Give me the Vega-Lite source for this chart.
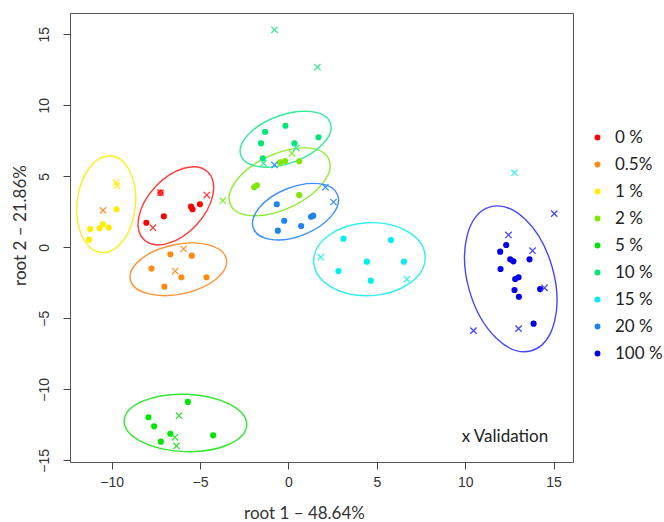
{
  "$schema": "https://vega.github.io/schema/vega-lite/v6.json",
  "width": 503,
  "height": 449,
  "autosize": {"type": "none"},
  "padding": {"left": 70, "top": 13, "right": 91, "bottom": 60},
  "config": {
    "view": {"stroke": "#555555", "strokeWidth": 1},
    "font": "Lato"
  },
  "datasets": {
    "dots": [
      {"g": "0 %", "x": -7.24, "y": 3.85}, {"g": "0 %", "x": -7.05, "y": 2.18}, {"g": "0 %", "x": -8.04, "y": 1.73},
      {"g": "0 %", "x": -5.51, "y": 2.86}, {"g": "0 %", "x": -5.43, "y": 2.68}, {"g": "0 %", "x": -5.01, "y": 3.03},
      {"g": "0.5%", "x": -6.68, "y": -0.49}, {"g": "0.5%", "x": -5.47, "y": -0.59}, {"g": "0.5%", "x": -7.75, "y": -1.5},
      {"g": "0.5%", "x": -6.06, "y": -2.11}, {"g": "0.5%", "x": -4.64, "y": -2.11}, {"g": "0.5%", "x": -7.02, "y": -2.77},
      {"g": "1 %", "x": -9.73, "y": 2.68}, {"g": "1 %", "x": -11.22, "y": 1.29}, {"g": "1 %", "x": -10.69, "y": 1.34},
      {"g": "1 %", "x": -10.5, "y": 1.62}, {"g": "1 %", "x": -10.17, "y": 1.38}, {"g": "1 %", "x": -11.28, "y": 0.54},
      {"g": "2 %", "x": -0.47, "y": 5.98}, {"g": "2 %", "x": -0.19, "y": 6.08}, {"g": "2 %", "x": 0.61, "y": 6.06},
      {"g": "2 %", "x": -1.94, "y": 4.23}, {"g": "2 %", "x": -1.79, "y": 4.37}, {"g": "2 %", "x": 0.61, "y": 3.68},
      {"g": "5 %", "x": -5.69, "y": -10.89}, {"g": "5 %", "x": -7.92, "y": -11.97}, {"g": "5 %", "x": -7.6, "y": -12.61},
      {"g": "5 %", "x": -6.68, "y": -13.13}, {"g": "5 %", "x": -7.22, "y": -13.69}, {"g": "5 %", "x": -4.26, "y": -13.24},
      {"g": "10 %", "x": -1.32, "y": 8.14}, {"g": "10 %", "x": -0.17, "y": 8.56}, {"g": "10 %", "x": -1.55, "y": 7.32},
      {"g": "10 %", "x": 0.34, "y": 7.32}, {"g": "10 %", "x": 1.7, "y": 7.75}, {"g": "10 %", "x": -1.45, "y": 6.27},
      {"g": "15 %", "x": 3.11, "y": 0.61}, {"g": "15 %", "x": 5.8, "y": 0.51}, {"g": "15 %", "x": 4.44, "y": -1.01},
      {"g": "15 %", "x": 6.53, "y": -1.01}, {"g": "15 %", "x": 2.83, "y": -1.67}, {"g": "15 %", "x": 4.66, "y": -2.35},
      {"g": "20 %", "x": -0.66, "y": 3.03}, {"g": "20 %", "x": -0.24, "y": 1.87}, {"g": "20 %", "x": -0.6, "y": 1.17},
      {"g": "20 %", "x": 0.72, "y": 1.5}, {"g": "20 %", "x": 1.28, "y": 2.15}, {"g": "20 %", "x": 1.4, "y": 2.23},
      {"g": "100 %", "x": 12.32, "y": 0.16}, {"g": "100 %", "x": 11.98, "y": -0.31}, {"g": "100 %", "x": 12.55, "y": -0.85},
      {"g": "100 %", "x": 12.73, "y": -0.99}, {"g": "100 %", "x": 13.64, "y": -0.85}, {"g": "100 %", "x": 12.0, "y": -1.53},
      {"g": "100 %", "x": 12.83, "y": -2.23}, {"g": "100 %", "x": 13.02, "y": -2.11}, {"g": "100 %", "x": 12.79, "y": -3.01},
      {"g": "100 %", "x": 13.04, "y": -3.48}, {"g": "100 %", "x": 14.24, "y": -2.94}, {"g": "100 %", "x": 13.87, "y": -5.38}
    ],
    "validation": [
      {"grp": "0 %", "x": -7.24, "y": 3.85}, {"grp": "0 %", "x": -7.67, "y": 1.38}, {"grp": "0 %", "x": -4.62, "y": 3.68},
      {"grp": "0.5%", "x": -5.94, "y": -0.12}, {"grp": "0.5%", "x": -6.41, "y": -1.67}, {"grp": "0.5%", "x": -10.49, "y": 2.6},
      {"grp": "1 %", "x": -9.74, "y": 4.55}, {"grp": "1 %", "x": -9.7, "y": 4.35},
      {"grp": "2 %", "x": 0.19, "y": 6.62}, {"grp": "2 %", "x": -3.71, "y": 3.28},
      {"grp": "5 %", "x": -6.19, "y": -11.86}, {"grp": "5 %", "x": -6.43, "y": -13.38}, {"grp": "5 %", "x": -6.34, "y": -13.99},
      {"grp": "10 %", "x": -1.41, "y": 5.92}, {"grp": "10 %", "x": -0.79, "y": 15.32}, {"grp": "10 %", "x": 1.64, "y": 12.68}, {"grp": "10 %", "x": 0.44, "y": 7.0},
      {"grp": "15 %", "x": 1.83, "y": -0.7}, {"grp": "15 %", "x": 6.7, "y": -2.25}, {"grp": "15 %", "x": 12.79, "y": 5.25},
      {"grp": "20 %", "x": -0.79, "y": 5.8}, {"grp": "20 %", "x": 2.09, "y": 4.23}, {"grp": "20 %", "x": 2.55, "y": 3.19},
      {"grp": "100 %", "x": 12.45, "y": 0.87}, {"grp": "100 %", "x": 13.81, "y": -0.24}, {"grp": "100 %", "x": 14.49, "y": -2.85},
      {"grp": "100 %", "x": 13.02, "y": -5.73}, {"grp": "100 %", "x": 10.47, "y": -5.87}, {"grp": "100 %", "x": 15.04, "y": 2.37}
    ],
    "ellipses": [
      {"g": "0 %", "x": -6.37, "y": 2.92},
      {"g": "0.5%", "x": -6.23, "y": -1.55},
      {"g": "1 %", "x": -10.31, "y": 3.03},
      {"g": "2 %", "x": -0.5, "y": 4.61},
      {"g": "5 %", "x": -5.83, "y": -12.37},
      {"g": "10 %", "x": -0.16, "y": 7.61},
      {"g": "15 %", "x": 4.58, "y": -0.84},
      {"g": "20 %", "x": 0.4, "y": 2.51},
      {"g": "100 %", "x": 12.58, "y": -2.22}
    ],
    "note": [{"x": 9.8, "y": -13.36, "label": "x Validation"}]
  },
  "layer": [
    {
      "data": {"name": "ellipses"}, "transform": [{"filter": {"field": "g", "equal": "0 %"}}],
      "mark": {"type": "point", "filled": false, "opacity": 1, "strokeWidth": 1.4, "stroke": "#ff3b3b", "size": 8649, "angle": 313,
        "shape": "M1,0C1,0.3325 0.5523,0.602 0,0.602C-0.5523,0.602 -1,0.3325 -1,0C-1,-0.3325 -0.5523,-0.602 0,-0.602C0.5523,-0.602 1,-0.3325 1,0Z"},
      "encoding": {"x": {"field": "x", "type": "quantitative"}, "y": {"field": "y", "type": "quantitative"}}
    },
    {
      "data": {"name": "ellipses"}, "transform": [{"filter": {"field": "g", "equal": "0.5%"}}],
      "mark": {"type": "point", "filled": false, "opacity": 1, "strokeWidth": 1.4, "stroke": "#ff9436", "size": 9643, "angle": 348,
        "shape": "M1,0C1,0.2789 0.5523,0.505 0,0.505C-0.5523,0.505 -1,0.2789 -1,0C-1,-0.2789 -0.5523,-0.505 0,-0.505C0.5523,-0.505 1,-0.2789 1,0Z"},
      "encoding": {"x": {"field": "x", "type": "quantitative"}, "y": {"field": "y", "type": "quantitative"}}
    },
    {
      "data": {"name": "ellipses"}, "transform": [{"filter": {"field": "g", "equal": "1 %"}}],
      "mark": {"type": "point", "filled": false, "opacity": 1, "strokeWidth": 1.4, "stroke": "#ffee22", "size": 9409, "angle": 276,
        "shape": "M1,0C1,0.3326 0.5523,0.6021 0,0.6021C-0.5523,0.6021 -1,0.3326 -1,0C-1,-0.3326 -0.5523,-0.6021 0,-0.6021C0.5523,-0.6021 1,-0.3326 1,0Z"},
      "encoding": {"x": {"field": "x", "type": "quantitative"}, "y": {"field": "y", "type": "quantitative"}}
    },
    {
      "data": {"name": "ellipses"}, "transform": [{"filter": {"field": "g", "equal": "2 %"}}],
      "mark": {"type": "point", "filled": false, "opacity": 1, "strokeWidth": 1.4, "stroke": "#8cee30", "size": 11751, "angle": 335,
        "shape": "M1,0C1,0.2822 0.5523,0.511 0,0.511C-0.5523,0.511 -1,0.2822 -1,0C-1,-0.2822 -0.5523,-0.511 0,-0.511C0.5523,-0.511 1,-0.2822 1,0Z"},
      "encoding": {"x": {"field": "x", "type": "quantitative"}, "y": {"field": "y", "type": "quantitative"}}
    },
    {
      "data": {"name": "ellipses"}, "transform": [{"filter": {"field": "g", "equal": "5 %"}}],
      "mark": {"type": "point", "filled": false, "opacity": 1, "strokeWidth": 1.4, "stroke": "#30e830", "size": 15031, "angle": 2,
        "shape": "M1,0C1,0.2585 0.5523,0.468 0,0.468C-0.5523,0.468 -1,0.2585 -1,0C-1,-0.2585 -0.5523,-0.468 0,-0.468C0.5523,-0.468 1,-0.2585 1,0Z"},
      "encoding": {"x": {"field": "x", "type": "quantitative"}, "y": {"field": "y", "type": "quantitative"}}
    },
    {
      "data": {"name": "ellipses"}, "transform": [{"filter": {"field": "g", "equal": "10 %"}}],
      "mark": {"type": "point", "filled": false, "opacity": 1, "strokeWidth": 1.4, "stroke": "#36ea98", "size": 9063, "angle": 340,
        "shape": "M1,0C1,0.2806 0.5523,0.508 0,0.508C-0.5523,0.508 -1,0.2806 -1,0C-1,-0.2806 -0.5523,-0.508 0,-0.508C0.5523,-0.508 1,-0.2806 1,0Z"},
      "encoding": {"x": {"field": "x", "type": "quantitative"}, "y": {"field": "y", "type": "quantitative"}}
    },
    {
      "data": {"name": "ellipses"}, "transform": [{"filter": {"field": "g", "equal": "15 %"}}],
      "mark": {"type": "point", "filled": false, "opacity": 1, "strokeWidth": 1.4, "stroke": "#30f0f0", "size": 12455, "angle": 357,
        "shape": "M1,0C1,0.3612 0.5523,0.654 0,0.654C-0.5523,0.654 -1,0.3612 -1,0C-1,-0.3612 -0.5523,-0.654 0,-0.654C0.5523,-0.654 1,-0.3612 1,0Z"},
      "encoding": {"x": {"field": "x", "type": "quantitative"}, "y": {"field": "y", "type": "quantitative"}}
    },
    {
      "data": {"name": "ellipses"}, "transform": [{"filter": {"field": "g", "equal": "20 %"}}],
      "mark": {"type": "point", "filled": false, "opacity": 1, "strokeWidth": 1.4, "stroke": "#3a90ff", "size": 8208, "angle": 338,
        "shape": "M1,0C1,0.2977 0.5523,0.539 0,0.539C-0.5523,0.539 -1,0.2977 -1,0C-1,-0.2977 -0.5523,-0.539 0,-0.539C0.5523,-0.539 1,-0.2977 1,0Z"},
      "encoding": {"x": {"field": "x", "type": "quantitative"}, "y": {"field": "y", "type": "quantitative"}}
    },
    {
      "data": {"name": "ellipses"}, "transform": [{"filter": {"field": "g", "equal": "100 %"}}],
      "mark": {"type": "point", "filled": false, "opacity": 1, "strokeWidth": 1.4, "stroke": "#4646ff", "size": 22380, "angle": 74,
        "shape": "M1,0C1,0.3176 0.5523,0.575 0,0.575C-0.5523,0.575 -1,0.3176 -1,0C-1,-0.3176 -0.5523,-0.575 0,-0.575C0.5523,-0.575 1,-0.3176 1,0Z"},
      "encoding": {"x": {"field": "x", "type": "quantitative"}, "y": {"field": "y", "type": "quantitative"}}
    },
    {
      "data": {"name": "dots"},
      "mark": {"type": "circle", "size": 38, "opacity": 1},
      "encoding": {
        "x": {"field": "x", "type": "quantitative",
          "scale": {"domain": [-12.36, 16.1], "nice": false, "zero": false},
          "axis": {"values": [-10, -5, 0, 5, 10, 15], "title": "root 1 – 48.64%", "grid": false, "domain": false,
            "tickSize": 7, "tickColor": "#444", "labelFont": "Liberation Sans", "labelFontSize": 14, "labelColor": "#333",
            "labelPadding": 6, "titleFont": "Lato", "titleFontSize": 17, "titleFontWeight": "normal", "titleColor": "#333",
            "titleX": 234, "titleY": 56, "titleAlign": "center", "titleBaseline": "alphabetic"}},
        "y": {"field": "y", "type": "quantitative",
          "scale": {"domain": [-15.12, 16.5], "nice": false, "zero": false},
          "axis": {"values": [-15, -10, -5, 0, 5, 10, 15], "title": "root 2 – 21.86%", "grid": false, "domain": false,
            "tickSize": 7, "tickColor": "#444", "labelFont": "Liberation Sans", "labelFontSize": 14, "labelColor": "#333",
            "labelAngle": -90, "labelAlign": "center", "labelBaseline": "bottom", "labelPadding": 12,
            "titleFont": "Lato", "titleFontSize": 17, "titleFontWeight": "normal", "titleColor": "#333",
            "titleX": -50, "titleY": 212, "titleAngle": -90, "titleAlign": "center", "titleBaseline": "middle"}},
        "fill": {"field": "g", "type": "nominal",
          "scale": {"domain": ["0 %", "0.5%", "1 %", "2 %", "5 %", "10 %", "15 %", "20 %", "100 %"],
            "range": ["#ff0000", "#ff8c10", "#ffee00", "#7fe800", "#00e600", "#00e676", "#00f0f0", "#1e82f0", "#0000ee"]},
          "legend": {"title": null, "orient": "none", "legendX": 519, "legendY": 116, "symbolType": "circle",
            "symbolSize": 34, "symbolStrokeWidth": 0, "labelFont": "Lato", "labelFontSize": 17, "labelColor": "#222",
            "labelOffset": 9, "rowPadding": 9, "padding": 0}}
      }
    },
    {
      "data": {"name": "validation"},
      "mark": {"type": "point", "filled": false, "strokeWidth": 1.3, "opacity": 1, "size": 40,
        "shape": "M-1,-1L1,1M-1,1L1,-1"},
      "encoding": {
        "x": {"field": "x", "type": "quantitative"},
        "y": {"field": "y", "type": "quantitative"},
        "stroke": {"field": "grp", "type": "nominal", "legend": null,
          "scale": {"domain": ["0 %", "0.5%", "1 %", "2 %", "5 %", "10 %", "15 %", "20 %", "100 %"],
            "range": ["#ff3b3b", "#ff9436", "#ffee22", "#8cee30", "#30e830", "#36ea98", "#30f0f0", "#3a90ff", "#4646ff"]}}
      }
    },
    {
      "data": {"name": "note"},
      "mark": {"type": "text", "align": "left", "baseline": "middle", "font": "Lato", "fontSize": 17, "color": "#222"},
      "encoding": {
        "x": {"field": "x", "type": "quantitative"},
        "y": {"field": "y", "type": "quantitative"},
        "text": {"field": "label"}
      }
    }
  ]
}
